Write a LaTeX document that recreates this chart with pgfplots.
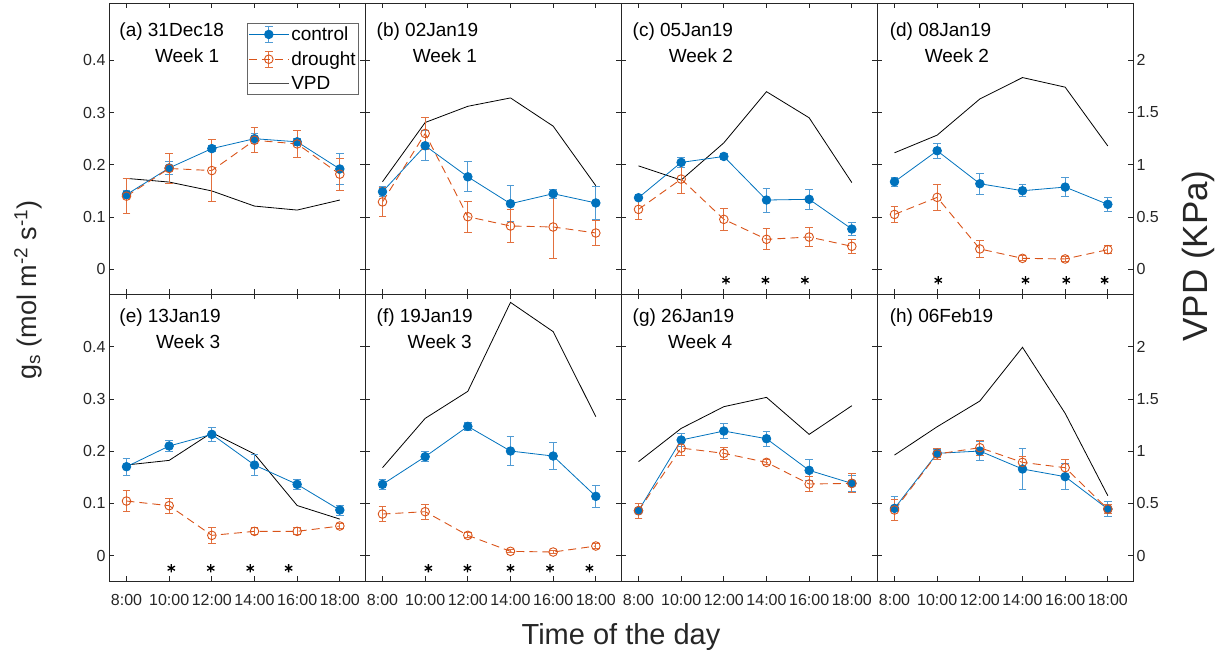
\documentclass[border=0pt]{standalone}
\usepackage{pgfplots}
\pgfplotsset{compat=1.18}
\usepackage{pgfplotstable}
\usepackage{fontspec}
\setmainfont{Liberation Sans}
\definecolor{cblue}{RGB}{0,114,189}
\definecolor{cbar}{RGB}{80,155,212}
\definecolor{dorange}{RGB}{217,83,25}
\definecolor{dbar}{RGB}{226,112,62}
\definecolor{axgray}{RGB}{38,38,38}

\pgfplotstableread{
t c ce d de v
8 0.143 0.008 0.140 0.034 0.87
10 0.194 0.012 0.193 0.028 0.835
12 0.231 0.006 0.189 0.060 0.75
14 0.250 0.010 0.247 0.024 0.605
16 0.244 0.007 0.240 0.026 0.567
18 0.192 0.030 0.182 0.031 0.663
}\tA
\pgfplotstableread{
t c ce d de v
8 0.1485 0.010 0.129 0.028 0.838
10 0.2365 0.029 0.260 0.030 1.405
12 0.177 0.029 0.1007 0.030 1.56
14 0.1256 0.035 0.0829 0.031 1.64
16 0.1447 0.009 0.081 0.060 1.37
18 0.127 0.031 0.0695 0.0245 0.80
}\tB
\pgfplotstableread{
t c ce d de v
8 0.137 0.006 0.1147 0.020 0.99
10 0.2046 0.010 0.1727 0.027 0.854
12 0.216 0.006 0.0956 0.021 1.21
14 0.1326 0.023 0.0574 0.020 1.70
16 0.134 0.019 0.0618 0.019 1.45
18 0.0771 0.013 0.044 0.014 0.83
}\tC
\pgfplotstableread{
t c ce d de v
8 0.1676 0.0086 0.105 0.015 1.115
10 0.2269 0.014 0.1377 0.0245 1.284
12 0.1638 0.020 0.039 0.0166 1.63
14 0.1504 0.011 0.021 0.005 1.835
16 0.1574 0.019 0.0198 0.004 1.743
18 0.1243 0.014 0.0376 0.008 1.18
}\tD
\pgfplotstableread{
t c ce d de v
8 0.1703 0.016 0.1046 0.020 0.868
10 0.2099 0.010 0.0957 0.0144 0.912
12 0.2322 0.013 0.0389 0.0147 1.177
14 0.1735 0.020 0.0466 0.007 0.973
16 0.1365 0.0096 0.0466 0.007 0.48
18 0.0874 0.0096 0.0568 0.005 0.35
}\tE
\pgfplotstableread{
t c ce d de v
8 0.1365 0.010 0.0797 0.0137 0.842
10 0.1895 0.009 0.0842 0.014 1.314
12 0.2475 0.007 0.0389 0.005 1.573
14 0.2003 0.028 0.0083 0.003 2.424
16 0.1907 0.025 0.007 0.003 2.144
18 0.1136 0.021 0.0185 0.004 1.33
}\tF
\pgfplotstableread{
t c ce d de v
8 0.0861 0.014 0.0861 0.014 0.90
10 0.2214 0.013 0.206 0.0144 1.218
12 0.2386 0.015 0.1959 0.0115 1.426
14 0.2239 0.014 0.1786 0.005 1.515
16 0.1633 0.020 0.1372 0.014 1.161
18 0.1384 0.016 0.1384 0.018 1.435
}\tG
\pgfplotstableread{
t c ce d de v
8 0.0906 0.023 0.0874 0.021 0.963
10 0.1959 0.008 0.1946 0.0105 1.234
12 0.2003 0.019 0.2067 0.014 1.48
14 0.1659 0.040 0.1786 0.011 1.994
16 0.1512 0.025 0.1684 0.015 1.362
18 0.0893 0.014 0.0893 0.008 0.574
}\tH

\tikzset{ptitle/.style={anchor=west, inner sep=0pt, font=\fontsize{19}{19}\selectfont, text=black}}

\pgfplotsset{
  base/.style={scale only axis, width=256pt, xmin=7.18, xmax=19.18,
    xtick={8,10,...,18}, tick align=inside, major tick length=5pt,
    axis line style={line width=0.8pt, axgray},
    every tick/.style={line width=0.8pt, axgray},
    tick label style={font=\fontsize{16}{16}\selectfont, text=axgray},
    /pgf/number format/assume math mode=true,
    xticklabel style={yshift=-9pt},
    anchor=north west, clip=false},
  panel/.style={base, ytick={0,0.1,0.2,0.3,0.4}, ytick pos=left},
  vpdax/.style={base, hide x axis, ytick={0,0.5,1,1.5,2}, ytick pos=right,
    yticklabel style={/pgf/number format/fixed}},
  toprow/.style={height=291.5pt, ymin=-0.0482, ymax=0.5097, xticklabels={}},
  botrow/.style={height=287pt, ymin=-0.0494, ymax=0.4999,
    xticklabels={8:00,10:00,12:00,14:00,16:00,18:00}},
  vtop/.style={height=291.5pt, ymin=-0.241, ymax=2.5485},
  vbot/.style={height=287pt, ymin=-0.247, ymax=2.4995},
  vpdline/.style={black, line width=0.8pt, mark=none},
  ctrl/.style={cblue, line width=0.8pt, mark=*, mark size=4.3pt,
    mark options={solid, fill=cblue},
    error bars/.cd, y dir=both, y explicit,
    error bar style={cbar, line width=1pt, solid},
    error mark options={rotate=90, mark size=3.8pt, cbar, line width=1pt, solid},
    /pgfplots/.cd},
  drgt/.style={dorange, line width=0.9pt, dash pattern=on 8pt off 5pt, mark=o, mark size=4.3pt,
    mark options={solid, fill=none},
    error bars/.cd, y dir=both, y explicit,
    error bar style={dbar, line width=1pt, solid},
    error mark options={rotate=90, mark size=3.8pt, dbar, line width=1pt, solid},
    /pgfplots/.cd},
  stars/.style={only marks, mark=asterisk, mark size=4.2pt, black, mark options={line width=1.3pt}},
  ctrlleg/.style={legend image code/.code={
    \draw[cbar, line width=1pt] (20pt,-8pt)--(20pt,8pt) (16pt,-8pt)--(24pt,-8pt) (16pt,8pt)--(24pt,8pt);
    \draw[cblue, line width=0.8pt] (0pt,0pt)--(40pt,0pt);
    \fill[cblue] (20pt,0pt) circle (4.3pt);}},
  drgtleg/.style={legend image code/.code={
    \draw[dbar, line width=1pt] (20pt,-8pt)--(20pt,8pt) (16pt,-8pt)--(24pt,-8pt) (16pt,8pt)--(24pt,8pt);
    \draw[dorange, line width=0.9pt, dash pattern=on 8pt off 5pt] (0pt,0pt)--(40pt,0pt);
    \draw[dorange, line width=0.9pt] (20pt,0pt) circle (4.3pt);}},
  vpdleg/.style={legend image code/.code={
    \draw[black!70, line width=0.9pt] (0pt,0pt)--(40pt,0pt);}},
}

\newcommand{\series}[1]{%
  \addplot[ctrl] table[x=t, y=c, y error=ce] {#1};
  \addplot[drgt] table[x=t, y=d, y error=de] {#1};
}

\begin{document}
\begin{tikzpicture}
\useasboundingbox (0pt,0pt) rectangle (1219pt,654pt);

% ---------------- top row ----------------
% (a)
\begin{axis}[vpdax, vtop, at={(109pt,651pt)}, yticklabels={}]
\addplot[vpdline] table[x=t, y=v] {\tA};
\end{axis}
\begin{axis}[panel, toprow, at={(109pt,651pt)},
  legend style={at={(0.977,0.93)}, anchor=north east,
    draw=black!60, line width=0.8pt, font=\fontsize{19}{22}\selectfont, text=black,
    inner sep=1pt, row sep=5.5pt},
  legend cell align=left]
\addplot[forget plot, ctrl] table[x=t, y=c, y error=ce] {\tA};
\addplot[forget plot, drgt] table[x=t, y=d, y error=de] {\tA};
\addlegendimage{ctrlleg}
\addlegendentry{control}
\addlegendimage{drgtleg}
\addlegendentry{drought}
\addlegendimage{vpdleg}
\addlegendentry{VPD}
\node[ptitle] at (axis cs:7.66,0.455) {(a) 31Dec18};
\node[ptitle] at (axis cs:9.33,0.408) {Week 1};
\end{axis}

% (b)
\begin{axis}[vpdax, vtop, at={(365pt,651pt)}, yticklabels={}]
\addplot[vpdline] table[x=t, y=v] {\tB};
\end{axis}
\begin{axis}[panel, toprow, at={(365pt,651pt)}, yticklabels={}]
\series{\tB}
\node[ptitle] at (axis cs:7.72,0.455) {(b) 02Jan19};
\node[ptitle] at (axis cs:9.41,0.408) {Week 1};
\end{axis}

% (c)
\begin{axis}[vpdax, vtop, at={(621pt,651pt)}, yticklabels={}]
\addplot[vpdline] table[x=t, y=v] {\tC};
\end{axis}
\begin{axis}[panel, toprow, at={(621pt,651pt)}, yticklabels={}]
\series{\tC}
\addplot[stars] coordinates {(12.1,-0.021) (13.95,-0.021) (15.8,-0.021)};
\node[ptitle] at (axis cs:7.72,0.455) {(c) 05Jan19};
\node[ptitle] at (axis cs:9.41,0.408) {Week 2};
\end{axis}

% (d)
\begin{axis}[vpdax, vtop, at={(877pt,651pt)}]
\addplot[vpdline] table[x=t, y=v] {\tD};
\end{axis}
\begin{axis}[panel, toprow, at={(877pt,651pt)}, yticklabels={}]
\series{\tD}
\addplot[stars] coordinates {(10.05,-0.021) (14.14,-0.021) (16.05,-0.021) (17.85,-0.021)};
\node[ptitle] at (axis cs:7.77,0.455) {(d) 08Jan19};
\node[ptitle] at (axis cs:9.41,0.408) {Week 2};
\end{axis}

% ---------------- bottom row ----------------
% (e)
\begin{axis}[vpdax, vbot, at={(109pt,359.5pt)}, yticklabels={}]
\addplot[vpdline] table[x=t, y=v] {\tE};
\end{axis}
\begin{axis}[panel, botrow, at={(109pt,359.5pt)}]
\series{\tE}
\addplot[stars] coordinates {(10.1,-0.024) (11.95,-0.024) (13.8,-0.024) (15.6,-0.024)};
\node[ptitle] at (axis cs:7.66,0.455) {(e) 13Jan19};
\node[ptitle] at (axis cs:9.38,0.41) {Week 3};
\end{axis}

% (f)
\begin{axis}[vpdax, vbot, at={(365pt,359.5pt)}, yticklabels={}]
\addplot[vpdline] table[x=t, y=v] {\tF};
\end{axis}
\begin{axis}[panel, botrow, at={(365pt,359.5pt)}, yticklabels={}]
\series{\tF}
\addplot[stars] coordinates {(10.15,-0.024) (11.98,-0.024) (14.0,-0.024) (15.85,-0.024) (17.7,-0.024)};
\node[ptitle] at (axis cs:7.72,0.455) {(f) 19Jan19};
\node[ptitle] at (axis cs:9.17,0.41) {Week 3};
\end{axis}

% (g)
\begin{axis}[vpdax, vbot, at={(621pt,359.5pt)}, yticklabels={}]
\addplot[vpdline] table[x=t, y=v] {\tG};
\end{axis}
\begin{axis}[panel, botrow, at={(621pt,359.5pt)}, yticklabels={}]
\series{\tG}
\node[ptitle] at (axis cs:7.72,0.455) {(g) 26Jan19};
\node[ptitle] at (axis cs:9.38,0.41) {Week 4};
\end{axis}

% (h)
\begin{axis}[vpdax, vbot, at={(877pt,359.5pt)}]
\addplot[vpdline] table[x=t, y=v] {\tH};
\end{axis}
\begin{axis}[panel, botrow, at={(877pt,359.5pt)}, yticklabels={}]
\series{\tH}
\node[ptitle] at (axis cs:7.77,0.455) {(h) 06Feb19};
\end{axis}

% axis labels
\node[rotate=90, font=\fontsize{27}{27}\selectfont, text=axgray] at (28pt,364pt)
  {g\textsubscript{s} (mol m\textsuperscript{-2} s\textsuperscript{-1})};
\node[rotate=90, font=\fontsize{35}{35}\selectfont, text=axgray] at (1198pt,398pt) {VPD (KPa)};
\node[anchor=base, font=\fontsize{29}{29}\selectfont, text=axgray] at (621pt,9.5pt) {Time of the day};
\end{tikzpicture}
\end{document}
